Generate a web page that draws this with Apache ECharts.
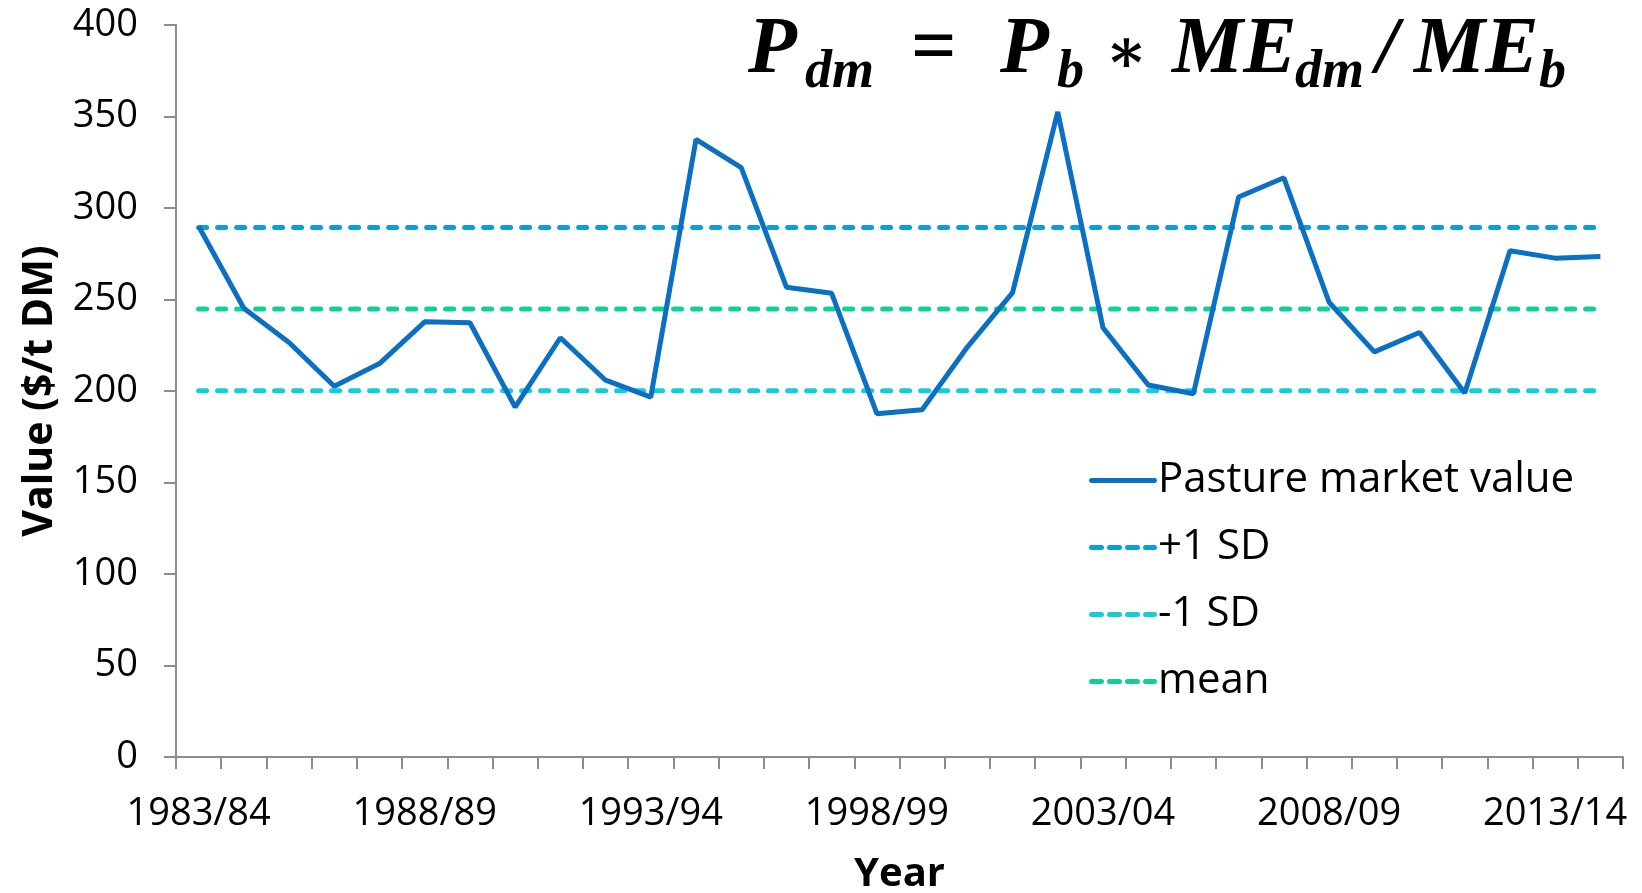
<!DOCTYPE html>
<html><head><meta charset="utf-8">
<script src="https://cdn.jsdelivr.net/npm/echarts@6/dist/echarts.min.js"></script>
<style>html,body{margin:0;padding:0;background:#fff}#c{width:1642px;height:893px}</style>
</head><body><div id="c"></div>
<script>
const years = ['1983/84','1984/85','1985/86','1986/87','1987/88','1988/89','1989/90','1990/91','1991/92','1992/93','1993/94','1994/95','1995/96','1996/97','1997/98','1998/99','1999/00','2000/01','2001/02','2002/03','2003/04','2004/05','2005/06','2006/07','2007/08','2008/09','2009/10','2010/11','2011/12','2012/13','2013/14','2014/15'];
const pastureValue = [290.0,245.2,226.5,202.6,215.0,237.8,237.3,191.2,229.1,205.9,196.7,337.5,322.0,256.7,253.4,187.6,189.8,224.0,253.8,352.5,234.6,203.3,198.5,306.0,316.5,248.5,221.4,232.0,198.9,276.6,272.6,273.5];
const plusSD = 289.4;
const minusSD = 200.2;
const meanValue = 244.8;
const seriesNames = ['Pasture market value','+1 SD','-1 SD','mean'];

const font = '"Open Sans", sans-serif';
const chart = echarts.init(document.getElementById('c'));
function flat(v){ return [[years[0], v], [years[years.length-1], v]]; }
const solidIcon = 'path://M2,0H66A2.5,2.5 0 0 1 66,5H2A2.5,2.5 0 0 1 2,0Z';
const dashIcon = 'path://M2.5,0H12.5A2.5,2.5 0 0 1 12.5,5H2.5A2.5,2.5 0 0 1 2.5,0Z M20.5,0H30.5A2.5,2.5 0 0 1 30.5,5H20.5A2.5,2.5 0 0 1 20.5,0Z M38.5,0H48.5A2.5,2.5 0 0 1 48.5,5H38.5A2.5,2.5 0 0 1 38.5,0Z M56.5,0H65.5A2.5,2.5 0 0 1 65.5,5H56.5A2.5,2.5 0 0 1 56.5,0Z';
const dashed = (name, color, v) => ({
  name, type:'line', data: flat(v), symbol:'none', z:2,
  lineStyle:{color, width:5, type:[8,11], cap:'round'}, itemStyle:{color}
});
const big = 'italic bold 80px "Liberation Serif"';
const sub = 'italic bold 54px "Liberation Serif"';
const yb = 51, ys = 73;
chart.setOption({
  animation:false,
  grid:{left:176, right:19, top:25, bottom:136, containLabel:false, outerBoundsMode:'none'},
  xAxis:{
    type:'category', data:years, boundaryGap:true,
    axisLine:{lineStyle:{color:'#8c8c8c', width:2}},
    axisTick:{show:true, interval:0, length:12, lineStyle:{color:'#8c8c8c', width:2}},
    axisLabel:{interval:4, margin:38, color:'#000', fontSize:38, fontFamily:font},
    name:'Year', nameLocation:'middle', nameGap:98,
    nameTextStyle:{color:'#000', fontSize:40, fontWeight:'bold', fontFamily:font}
  },
  yAxis:{
    type:'value', min:0, max:400, interval:50,
    axisLine:{show:true, lineStyle:{color:'#8c8c8c', width:2}},
    axisTick:{show:true, length:12, lineStyle:{color:'#8c8c8c', width:2}},
    splitLine:{show:false},
    axisLabel:{margin:38, color:'#000', fontSize:38, fontFamily:font},
    name:'Value ($/t DM)', nameLocation:'middle', nameGap:115,
    nameTextStyle:{color:'#000', fontSize:41, fontWeight:'bold', fontFamily:font}
  },
  legend:{
    orient:'vertical', left:1084, top:447, itemWidth:68, itemHeight:5, itemGap:10,
    data:[
      {name:seriesNames[0], icon:solidIcon},
      {name:seriesNames[1], icon:dashIcon},
      {name:seriesNames[2], icon:dashIcon},
      {name:seriesNames[3], icon:dashIcon}
    ],
    textStyle:{color:'#000', fontSize:42, lineHeight:57, fontFamily:font, padding:[0,0,0,-4]}
  },
  graphic:[
    {type:'text', x:748, y:yb, style:{text:'P', font:big, fill:'#000', verticalAlign:'middle'}},
    {type:'text', x:805, y:ys, style:{text:'dm', font:sub, fill:'#000', verticalAlign:'middle'}},
    {type:'text', x:911, y:yb, style:{text:'=', font:'bold 80px "Liberation Serif"', fill:'#000', verticalAlign:'middle'}},
    {type:'text', x:1000, y:yb, style:{text:'P', font:big, fill:'#000', verticalAlign:'middle'}},
    {type:'text', x:1057, y:ys, style:{text:'b', font:sub, fill:'#000', verticalAlign:'middle'}},
    {type:'text', x:1105, y:56, style:{text:'∗', font:'bold 62px "DejaVu Serif"', fill:'#000', verticalAlign:'middle'}},
    {type:'text', x:1172, y:yb, style:{text:'ME', font:big, fill:'#000', verticalAlign:'middle'}},
    {type:'text', x:1295, y:ys, style:{text:'dm', font:sub, fill:'#000', verticalAlign:'middle'}},
    {type:'text', x:1376, y:yb, style:{text:'/', font:big, fill:'#000', verticalAlign:'middle'}},
    {type:'text', x:1414, y:yb, style:{text:'ME', font:big, fill:'#000', verticalAlign:'middle'}},
    {type:'text', x:1539, y:ys, style:{text:'b', font:sub, fill:'#000', verticalAlign:'middle'}}
  ],
  series:[
    {name:seriesNames[0], type:'line', data:pastureValue, symbol:'none', z:3,
     lineStyle:{color:'#0B6FC4', width:5}, itemStyle:{color:'#0B6FC4'}},
    dashed(seriesNames[1], '#0A9FDB', plusSD),
    dashed(seriesNames[2], '#12CEDA', minusSD),
    dashed(seriesNames[3], '#10D09A', meanValue)
  ]
});
</script></body></html>
